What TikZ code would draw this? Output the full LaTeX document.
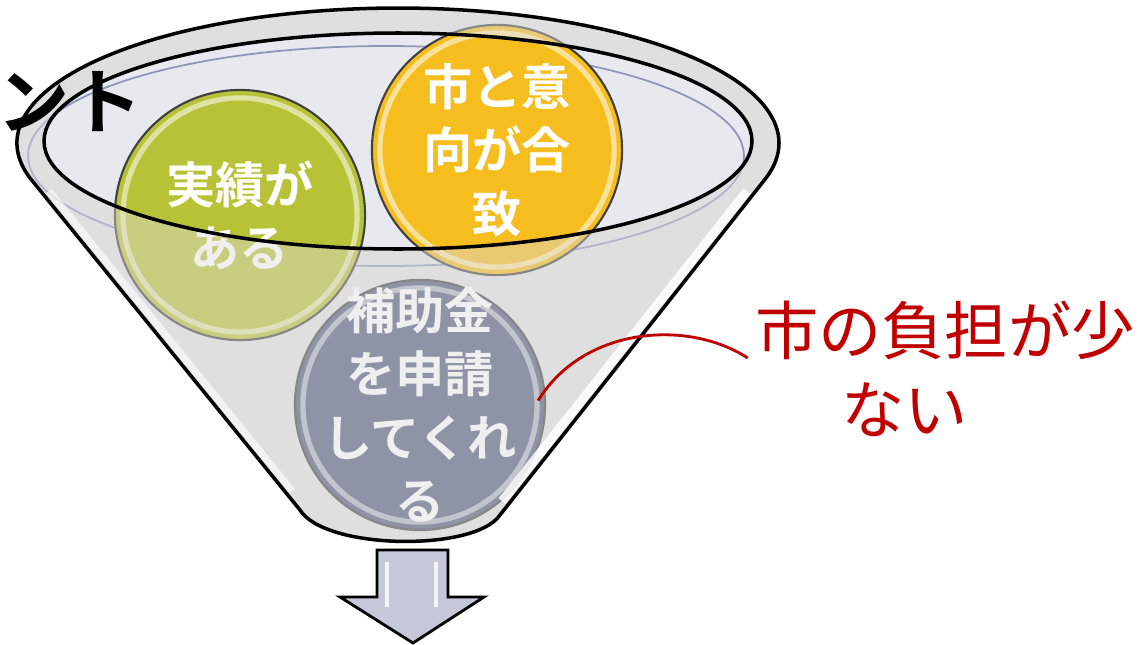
\documentclass[tikz,border=0pt]{standalone}
\usepackage{fontspec}
\usepackage{tikz}
\newfontfamily\jpfont{Noto Sans CJK JP}[BoldFont={Noto Sans CJK JP Bold}]
\definecolor{conegray}{HTML}{E3E3E3}
\definecolor{mouthgray}{HTML}{E8E9EE}
\definecolor{frontgray}{HTML}{DCDCDC}
\definecolor{tideblue}{HTML}{8C96B8}
\definecolor{recordgreen}{HTML}{B8C236}
\definecolor{intentgold}{HTML}{F5BD1D}
\definecolor{grantslate}{HTML}{4F587A}
\definecolor{callred}{HTML}{C00000}
\definecolor{arrowblue}{HTML}{C4C8D8}
\def\funnelshape{(30,178) arc[start angle=165, end angle=375, x radius=381, y radius=135] -- (500,515) .. controls (475,552) and (325,550) .. (300,510) -- cycle}
\tikzset{
  bubble/.style={circle, draw=black!75, line width=0.6pt, minimum size=2.5cm, inner sep=0pt,
    path picture={\draw[white, opacity=.55, line width=1.5pt] (path picture bounding box.center) circle[radius=1.17cm];}},
  bubbletext/.style={text=white, align=center, font=\jpfont\bfseries\fontsize{14}{18}\selectfont},
  calltext/.style={text=callred, font=\jpfont\fontsize{18}{22}\selectfont}
}
\begin{document}
\begin{tikzpicture}[x=0.01cm, y=-0.01cm]
            \useasboundingbox (0,0) rectangle (1141,645);
            % funnel, back
            \fill[conegray] \funnelshape;
            \fill[mouthgray] (398,141) ellipse[x radius=354, y radius=108];
            \draw[tideblue, line width=0.5pt] (386,156) ellipse[x radius=358, y radius=110];
            % the three balls
            \node[bubble, fill=recordgreen] (record) at (240,215) {};
            \node[bubbletext] (recordtxt) at (record) {実績が\\ある};
            \node[bubble, fill=intentgold] (intent) at (497,150) {};
            \node[bubbletext] (intenttxt) at (intent) {市と意\\向が合\\致};
            \node[bubble, fill=grantslate] (grant) at (420,405) {};
            \node[bubbletext] (granttxt) at (grant) {補助金\\を申請\\してくれ\\る};
            % funnel, front
            \fill[frontgray, opacity=.45, even odd rule] \funnelshape (398,141) ellipse[x radius=354, y radius=108];
            \draw[white, line width=2.5pt, opacity=.85] (747,191) -- (502,501);
            \draw[white, line width=2pt, opacity=.6] (49,191) -- (292,491);
            \draw[line width=1pt] \funnelshape;
            \draw[line width=1pt] (398,141) ellipse[x radius=354, y radius=108];
            % arrow out
            \draw[fill=arrowblue, line width=0.8pt] (377,550) -- (448,550) -- (448,597) -- (484,597) -- (413,643) -- (340,597) -- (377,597) -- cycle;
            \draw[white, line width=1pt, opacity=.8] (387,562) -- (387,607);
            \draw[white, line width=1pt, opacity=.8] (436,562) -- (436,607);
            % labels
            \node[font=\jpfont\bfseries\fontsize{20.5}{20.5}\selectfont] (point) at (70,102) {ント};
            \node[calltext] (burden) at (945,330) {市の負担が少};
            \node[calltext] (burdenb) at (905,410) {ない};
            \draw[callred, line width=0.8pt] ([shift={(-8,0)}]grant.2) .. controls (585,325) and (690,320) .. ([shift={(5,28)}]burden.west);
        \end{tikzpicture}
\end{document}
